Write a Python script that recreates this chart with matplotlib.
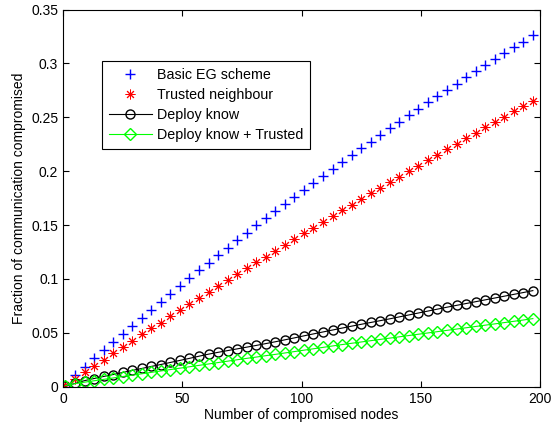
import matplotlib
matplotlib.use("Agg")
import matplotlib.pyplot as plt
from matplotlib.ticker import FuncFormatter

plt.rcParams['font.family'] = ['Liberation Sans', 'DejaVu Sans']

# compromised nodes: 1, 5, 9, ..., 197
nodes = list(range(1, 198, 4))

basic_eg = [0.0020, 0.0105, 0.0186, 0.0264, 0.0340, 0.0412, 0.0489, 0.0566, 0.0640, 0.0715,
            0.0790, 0.0864, 0.0938, 0.1010, 0.1080, 0.1150, 0.1220, 0.1290, 0.1360, 0.1430,
            0.1500, 0.1570, 0.1630, 0.1700, 0.1760, 0.1826, 0.1894, 0.1960, 0.2024, 0.2086,
            0.2150, 0.2213, 0.2275, 0.2337, 0.2400, 0.2460, 0.2520, 0.2580, 0.2640, 0.2696,
            0.2755, 0.2813, 0.2872, 0.2930, 0.2986, 0.3040, 0.3098, 0.3150, 0.3200, 0.3260]

trusted = [0.0016, 0.0069, 0.0140, 0.0192, 0.0248, 0.0310, 0.0366, 0.0427, 0.0487, 0.0542,
           0.0594, 0.0660, 0.0712, 0.0770, 0.0826, 0.0879, 0.0935, 0.0990, 0.1046, 0.1100,
           0.1155, 0.1207, 0.1263, 0.1316, 0.1369, 0.1424, 0.1476, 0.1530, 0.1580, 0.1638,
           0.1690, 0.1740, 0.1796, 0.1848, 0.1900, 0.1950, 0.2003, 0.2052, 0.2105, 0.2154,
           0.2204, 0.2257, 0.2306, 0.2355, 0.2408, 0.2458, 0.2507, 0.2557, 0.2606, 0.2656]

deploy = [0.0008, 0.0030, 0.0056, 0.0076, 0.0095, 0.0113, 0.0132, 0.0151, 0.0169, 0.0188,
          0.0206, 0.0225, 0.0244, 0.0263, 0.0283, 0.0302, 0.0319, 0.0335, 0.0351, 0.0367,
          0.0383, 0.0400, 0.0417, 0.0435, 0.0453, 0.0472, 0.0490, 0.0508, 0.0526, 0.0544,
          0.0562, 0.0579, 0.0596, 0.0613, 0.0630, 0.0648, 0.0666, 0.0684, 0.0702, 0.0720,
          0.0738, 0.0755, 0.0772, 0.0789, 0.0806, 0.0823, 0.0840, 0.0857, 0.0874, 0.0892]

deploy_trusted = [0.0010, 0.0028, 0.0042, 0.0055, 0.0068, 0.0081, 0.0094, 0.0107, 0.0120, 0.0133,
                  0.0146, 0.0159, 0.0172, 0.0185, 0.0198, 0.0211, 0.0224, 0.0237, 0.0250, 0.0263,
                  0.0275, 0.0288, 0.0300, 0.0313, 0.0326, 0.0339, 0.0352, 0.0365, 0.0378, 0.0391,
                  0.0403, 0.0415, 0.0427, 0.0439, 0.0451, 0.0463, 0.0475, 0.0487, 0.0499, 0.0511,
                  0.0523, 0.0535, 0.0547, 0.0559, 0.0571, 0.0583, 0.0595, 0.0607, 0.0619, 0.0632]

fig = plt.figure(figsize=(5.53, 4.28), dpi=100)
ax = fig.add_axes([0.114, 0.0965, 0.8625, 0.881])

ax.plot(nodes, basic_eg, linestyle='none', marker='+', color='blue',
        markersize=7, markeredgewidth=1.0, label='Basic EG scheme')
ax.plot(nodes, trusted, linestyle='none', marker=(8, 2, 0), color='red',
        markersize=7, markeredgewidth=0.7, label='Trusted neighbour')
ax.plot(nodes, deploy, '-', marker='o', color='black', markerfacecolor='none',
        markersize=6.5, linewidth=0.8, markeredgewidth=1.0, label='Deploy know')
ax.plot(nodes, deploy_trusted, '-', marker='D', color=(0, 1, 0), markerfacecolor='none',
        markersize=6, linewidth=0.8, markeredgewidth=1.0, label='Deploy know + Trusted')

ax.set_xlim(0, 200)
ax.set_ylim(0, 0.35)
ax.set_xticks([0, 50, 100, 150, 200])
ax.set_yticks([0, 0.05, 0.1, 0.15, 0.2, 0.25, 0.3, 0.35])
ax.yaxis.set_major_formatter(FuncFormatter(lambda v, p: f'{v:g}'))
ax.tick_params(direction='in', top=True, right=True, labelsize=10, length=4, width=0.8)
for s in ax.spines.values():
    s.set_linewidth(0.8)

ax.set_xlabel('Number of compromised nodes', fontsize=10, labelpad=2)
ax.set_ylabel('Fraction of communication compromised', fontsize=10, labelpad=4)

leg = ax.legend(loc='upper left', bbox_to_anchor=(0.082, 0.865), borderaxespad=0,
                fontsize=10.3, fancybox=False, framealpha=1, edgecolor='black',
                handlelength=2.95, borderpad=0.5, labelspacing=0.42, handletextpad=0.35)
leg.get_frame().set_linewidth(0.8)

fig.savefig('out.png', dpi=100)
